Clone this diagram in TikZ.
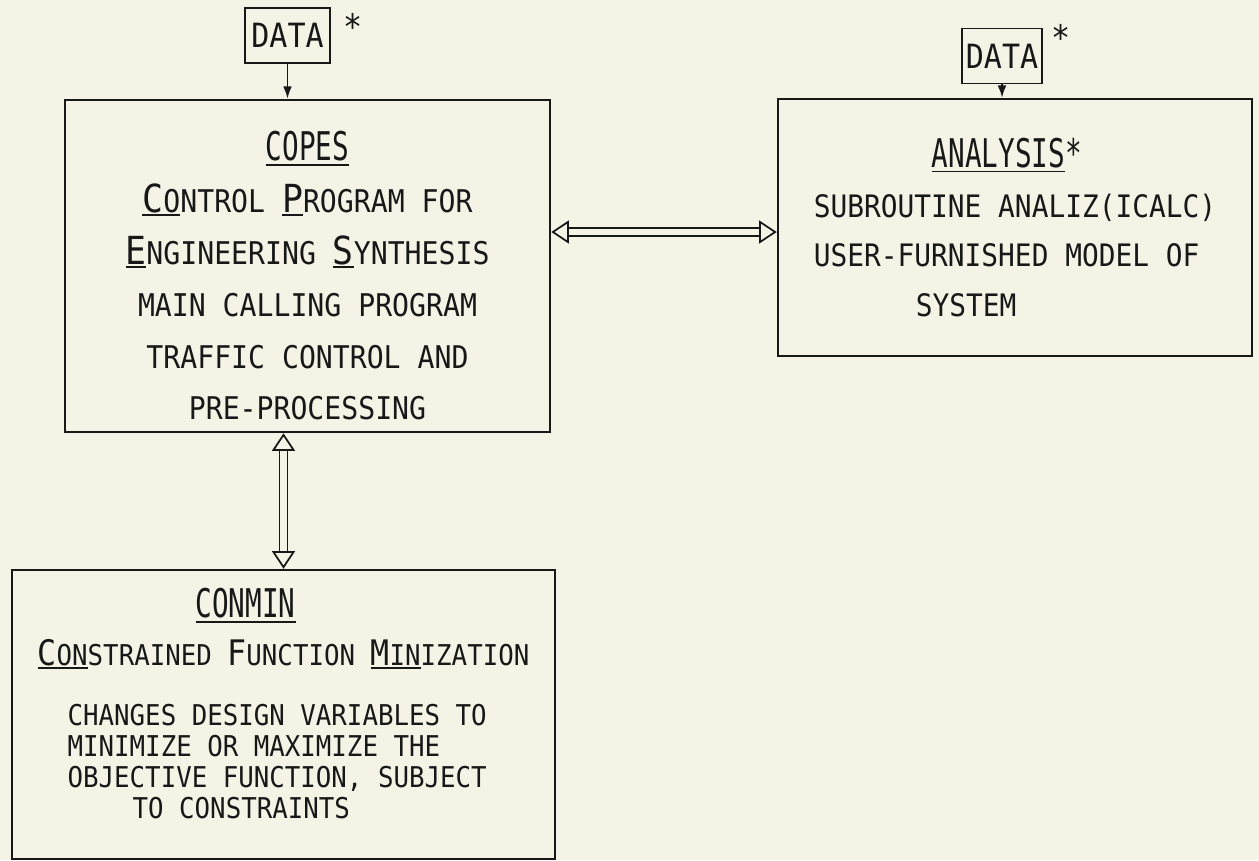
\documentclass[tikz,border=0pt]{standalone}
\usepackage{fontspec}
\usetikzlibrary{arrows.meta, positioning}
\newfontfamily\bodyfam[FakeStretch=0.9]{DejaVu Sans Mono}
\newfontfamily\headfam[FakeStretch=0.7]{DejaVu Sans Mono}
\definecolor{PaperFill}{RGB}{245,243,230}
\definecolor{InkLine}{RGB}{24,24,24}

\newcommand{\headfont}{\headfam\fontsize{22.5}{27}\selectfont}
\newcommand{\copesfont}{\bodyfam\fontsize{17.8}{29.5}\selectfont}
\newcommand{\anafont}{\bodyfam\fontsize{17.6}{28.4}\selectfont}
\newcommand{\conminfont}{\bodyfam\fontsize{16.3}{17.6}\selectfont}
\newcommand{\datafont}{\bodyfam\fontsize{19}{20}\selectfont}
\newcommand{\astfont}{\bodyfam\fontsize{20}{20}\selectfont}
% big first letters
\newcommand{\ini}[1]{{\fontsize{22}{22}\selectfont #1}}
\newcommand{\inis}[1]{{\fontsize{20}{20}\selectfont #1}}
% thick underline
\newlength{\ulwd}
\newcommand{\ul}[2][2pt]{\settowidth{\ulwd}{#2}\rlap{\rule[-#1]{\ulwd}{1pt}}#2}

\begin{document}
\begin{tikzpicture}[
    box/.style={
        draw=InkLine, line width=1.4pt, fill=PaperFill,
        inner sep=0pt, text=InkLine
    },
    databox/.style={
        draw=InkLine, line width=1.1pt, inner sep=0pt,
        minimum height=1.1cm, font=\datafont, text=InkLine
    },
    ast/.style={font=\astfont, inner sep=0pt, text=InkLine},
    feed/.style={-{Latex[length=7pt, width=5pt]}, line width=1.1pt, InkLine},
    link/.style={
        {Triangle[open, length=10pt, width=13pt, line width=1pt]}-{Triangle[open, length=10pt, width=13pt, line width=1pt]},
        line width=1pt, double=PaperFill, double distance=3.5pt, draw=InkLine
    }
]

% page
\fill[PaperFill] (0,0) rectangle (25.18,-17.2);
\useasboundingbox (0,0) rectangle (25.18,-17.2);

% ===================================================================
% COPES
% ===================================================================
\node[box, minimum width=9.7cm, minimum height=6.64cm, font=\copesfont,
      align=center] (copes) at (6.15,-5.32)
    {\rule{0pt}{28pt}{\headfont\ul[3pt]{COPES}}\\
     \ul{\ini{C}O}NTROL \ul{\ini{P}}ROGRAM FOR\\
     \ul{\ini{E}}NGINEERING \ul{\ini{S}}YNTHESIS\\
     MAIN CALLING PROGRAM\\
     TRAFFIC CONTROL AND\\
     PRE-PROCESSING};

\node[databox, minimum width=1.7cm] (dataL) at (5.75,-0.71) {DATA};
\node[ast, right=0.24cm of dataL.north east, anchor=north west,
      yshift=-0.12cm] (astL) {*};

% ===================================================================
% ANALYSIS
% ===================================================================
\node[box, minimum width=9.48cm, minimum height=5.14cm, font=\anafont,
      align=left] (analysis) at (20.3,-4.55)
    {\hspace*{2.36cm}{\headfont\ul[3pt]{ANALYSIS}*}\\
     SUBROUTINE ANALIZ(ICALC)\\
     USER-FURNISHED MODEL OF\\
     \hspace*{2.04cm}SYSTEM};

\node[databox, minimum width=1.6cm] (dataR) at (20.04,-1.12) {DATA};
\node[ast, right=0.16cm of dataR.north east, anchor=north west,
      yshift=0.06cm] (astR) {*};

% ===================================================================
% CONMIN
% ===================================================================
\node[box, minimum width=10.86cm, minimum height=5.78cm, font=\conminfont,
      align=left] (conmin) at (5.67,-14.29)
    {\hspace*{3.16cm}{\headfont\ul[3pt]{CONMIN}}\\[0.3cm]
     \ul{\inis{C}ON}STRAINED \inis{F}UNCTION \ul{\inis{M}IN}IZATION\\[0.58cm]
     \hspace*{0.6cm}CHANGES DESIGN VARIABLES TO\\
     \hspace*{0.6cm}MINIMIZE OR MAXIMIZE THE\\
     \hspace*{0.6cm}OBJECTIVE FUNCTION, SUBJECT\\
     \hspace*{1.9cm}TO CONSTRAINTS\rule[-13pt]{0pt}{0pt}};

% ===================================================================
% ARROWS
% ===================================================================
\draw[feed] (dataL.south) -- (dataL.south |- copes.north);
\draw[feed] (dataR.south) -- (dataR.south |- analysis.north);

\draw[link] ([yshift=-0.09cm]analysis.west -| copes.east)
    -- ([yshift=-0.09cm]analysis.west);
\draw[link] (conmin.north |- copes.south) -- (conmin.north);

\end{tikzpicture}
\end{document}
